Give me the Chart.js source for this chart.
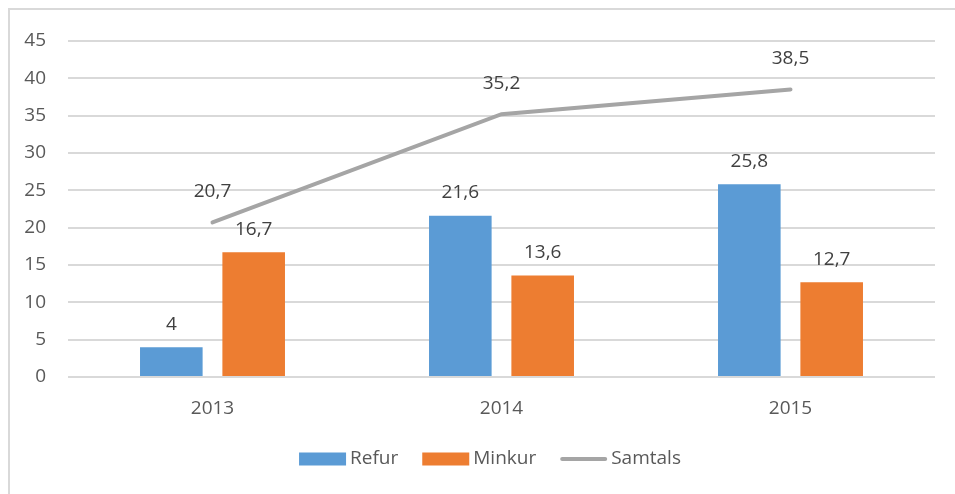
<!DOCTYPE html>
<html><head><meta charset="utf-8">
<script src="https://cdn.jsdelivr.net/npm/chart.js@4/dist/chart.umd.min.js"></script>
<style>html,body{margin:0;padding:0;background:#fff}#wrap{width:955px;height:494px;position:relative}</style>
</head><body><div id="wrap"><canvas id="c" width="955" height="494"></canvas></div>
<script>
const categories = ['2013', '2014', '2015'];
const refur = [4, 21.6, 25.8];
const minkur = [16.7, 13.6, 12.7];
const samtals = [20.7, 35.2, 38.5];
const seriesNames = ['Refur', 'Minkur', 'Samtals'];
const yTicks = [0, 5, 10, 15, 20, 25, 30, 35, 40, 45];

const FONT = '"Open Sans", sans-serif';
const TXT = '#595959';
const colors = ['#5B9BD5', '#ED7D31', '#A5A5A5'];
const fmt = v => String(v).replace('.', ',');

const frame = {
  id: 'frame',
  beforeDraw(chart) {
    const ctx = chart.ctx;
    ctx.save();
    ctx.fillStyle = '#fff';
    ctx.fillRect(0, 0, chart.width, chart.height);
    ctx.strokeStyle = '#D9D9D9';
    ctx.lineWidth = 2;
    ctx.strokeRect(9, 9, 2000, 2000);
    ctx.restore();
  }
};

const labels = {
  id: 'labels',
  afterDatasetsDraw(chart) {
    const ctx = chart.ctx;
    ctx.save();
    ctx.font = '19px ' + FONT;
    ctx.fillStyle = '#404040';
    ctx.textAlign = 'center';
    ctx.textBaseline = 'middle';
    chart.data.datasets.forEach((ds, i) => {
      const meta = chart.getDatasetMeta(i);
      meta.data.forEach((el, j) => {
        const off = ds.type === 'line' ? 31 : 23;
        ctx.fillText(fmt(ds.data[j]), el.x, el.y - off);
      });
    });
    ctx.restore();
  }
};

const legendPlugin = {
  id: 'customLegend',
  afterDraw(chart) {
    const ctx = chart.ctx;
    ctx.save();
    ctx.font = '19px ' + FONT;
    ctx.textBaseline = 'middle';
    ctx.textAlign = 'left';
    const boxW = 47, gap = 4, spacing = 24, cy = 459;
    const widths = seriesNames.map(n => boxW + gap + ctx.measureText(n).width);
    const total = widths.reduce((a, b) => a + b, 0) + spacing * (seriesNames.length - 1);
    let x = 490 - total / 2;
    seriesNames.forEach((n, i) => {
      const ds = chart.data.datasets[i];
      if (ds.type === 'line') {
        ctx.strokeStyle = colors[i];
        ctx.lineWidth = 4;
        ctx.lineCap = 'round';
        ctx.beginPath();
        ctx.moveTo(x + 2, cy);
        ctx.lineTo(x + boxW - 2, cy);
        ctx.stroke();
      } else {
        ctx.fillStyle = colors[i];
        ctx.fillRect(x, cy - 6.5, boxW, 13);
      }
      ctx.fillStyle = TXT;
      ctx.fillText(n, x + boxW + gap, cy);
      x += widths[i] + spacing;
    });
    ctx.restore();
  }
};

new Chart(document.getElementById('c'), {
  data: {
    labels: categories,
    datasets: [
      { type: 'bar', label: seriesNames[0], data: refur, backgroundColor: colors[0], order: 2,
        categoryPercentage: 0.57, barPercentage: 0.76 },
      { type: 'bar', label: seriesNames[1], data: minkur, backgroundColor: colors[1], order: 2,
        categoryPercentage: 0.57, barPercentage: 0.76 },
      { type: 'line', label: seriesNames[2], data: samtals, borderColor: colors[2], backgroundColor: colors[2],
        borderWidth: 4, pointRadius: 0, borderCapStyle: 'round', tension: 0, order: 1 }
    ]
  },
  options: {
    responsive: false,
    animation: false,
    devicePixelRatio: 1,
    layout: { padding: { left: 10, right: 20, top: 41, bottom: 77 } },
    plugins: { legend: { display: false }, tooltip: { enabled: false } },
    scales: {
      x: {
        grid: { display: false },
        border: { display: false },
        ticks: { color: TXT, font: { size: 19, family: FONT }, padding: 12 },
        afterFit(s) { s.height = 40; }
      },
      y: {
        min: 0, max: 45,
        afterBuildTicks(s) { s.ticks = yTicks.map(v => ({ value: v })); },
        grid: { color: '#D9D9D9', lineWidth: 2, drawTicks: false },
        border: { display: false },
        ticks: { color: TXT, font: { size: 19, family: FONT }, padding: 22 },
        afterFit(s) { s.width = 58; }
      }
    }
  },
  plugins: [frame, labels, legendPlugin]
});
</script></body></html>
